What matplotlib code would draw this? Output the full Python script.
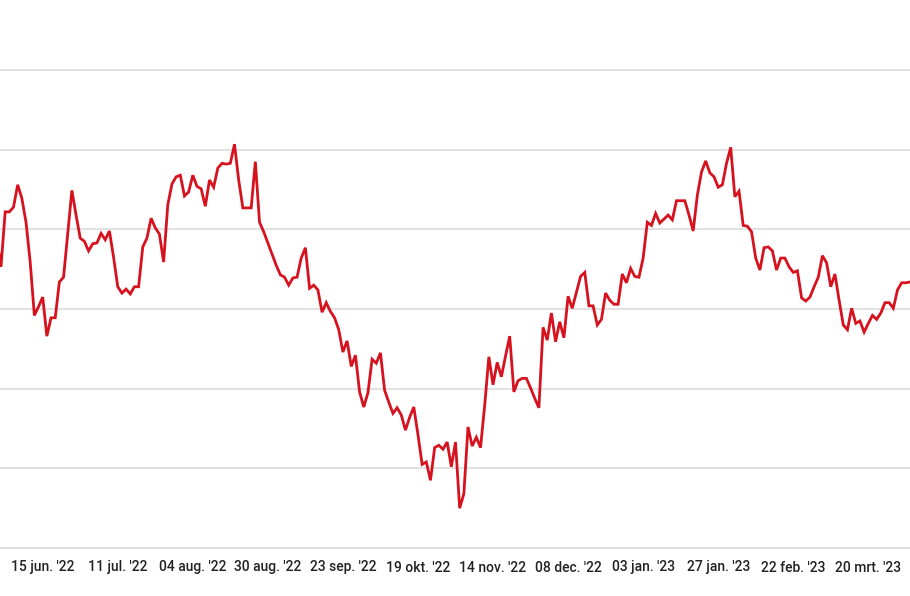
import numpy as np
import matplotlib
matplotlib.use("Agg")
import matplotlib.pyplot as plt

# Series values (one per trading day, starting one day before the first visible point)
values = [
    38.7, 35.3, 42.2, 42.2, 42.8, 45.6, 43.9, 40.9, 35.9, 29.2,
    30.3, 31.5, 26.6, 28.9, 28.9, 33.4, 34.0, 39.5, 44.9, 41.8,
    38.9, 38.5, 37.3, 38.2, 38.3, 39.5, 38.7, 39.8, 36.5, 32.8,
    32.0, 32.5, 31.9, 32.8, 32.8, 37.8, 38.9, 41.4, 40.2, 39.4,
    35.9, 43.1, 45.7, 46.6, 46.8, 44.2, 44.7, 46.8, 45.4, 45.1,
    42.9, 46.2, 45.3, 47.7, 48.3, 48.2, 48.3, 50.7, 46.2, 42.7,
    42.7, 42.7, 48.5, 40.9, 39.7, 38.3, 36.9, 35.5, 34.3, 34.0,
    33.0, 33.9, 34.0, 36.4, 37.7, 32.6, 33.0, 32.4, 29.6, 30.8,
    29.7, 28.9, 27.4, 24.6, 26.0, 22.8, 24.2, 19.6, 17.7, 19.5,
    23.7, 23.2, 24.5, 19.8, 18.3, 16.9, 17.6, 16.7, 14.8, 16.4,
    17.7, 14.2, 10.5, 10.8, 8.5, 12.6, 12.9, 12.4, 13.3, 10.2,
    13.3, 5.0, 6.8, 15.2, 12.8, 13.9, 12.6, 17.9, 24.0, 20.5,
    23.3, 21.5, 24.1, 26.6, 19.6, 21.0, 21.3, 21.3, 20.1, 18.8,
    17.6, 27.7, 26.1, 29.5, 25.9, 28.4, 26.4, 31.6, 30.1, 32.1,
    34.1, 34.6, 30.4, 30.4, 28.0, 28.7, 32.0, 31.1, 30.6, 30.6,
    34.4, 33.3, 35.1, 34.1, 34.0, 36.4, 40.9, 40.5, 42.0, 40.8,
    41.3, 41.8, 41.2, 43.6, 43.6, 43.6, 41.8, 39.8, 44.3, 47.2,
    48.6, 47.1, 46.6, 45.3, 45.6, 48.3, 50.3, 44.1, 44.8, 40.5,
    40.4, 39.7, 36.4, 34.9, 37.7, 37.8, 37.3, 34.9, 36.4, 36.4,
    35.3, 34.6, 34.8, 31.4, 31.0, 31.5, 32.8, 34.0, 36.7, 35.8,
    32.8, 34.4, 31.1, 28.0, 27.4, 30.1, 28.2, 28.5, 27.1, 28.2,
    29.2, 28.7, 29.5, 30.8, 30.8, 30.1, 32.4, 33.3, 33.3, 33.4,
]
x_index = np.arange(len(values)) - 1

tick_labels = ["15 jun. '22", "11 jul. '22", "04 aug. '22", "30 aug. '22",
               "23 sep. '22", "19 okt. '22", "14 nov. '22", "08 dec. '22",
               "03 jan. '23", "27 jan. '23", "22 feb. '23", "20 mrt. '23"]
tick_index = [10 + 18 * k for k in range(len(tick_labels))]
grid_values = [0, 10, 20, 30, 40, 50, 60]

fig = plt.figure(figsize=(9.1, 5.96), dpi=100)
ax = fig.add_axes([0, 48 / 596, 1, 548 / 596])

ax.plot(x_index, values, color="#d7121f", lw=2.0, solid_joinstyle="miter",
        zorder=3)

ax.set_xlim(-0.24, 218.0)
ax.set_ylim(0, 68.8)
ax.set_yticks(grid_values)
ax.set_xticks(tick_index)
ax.set_xticklabels(tick_labels, color="#222222", family="Roboto",
                   fontsize=10, fontweight="medium")
ax.tick_params(axis="x", length=0, pad=9)
ax.tick_params(axis="y", length=0, labelleft=False)
ax.grid(axis="y", color="#d9d9d9", lw=1.1, zorder=0)
for s in ["top", "right", "left"]:
    ax.spines[s].set_visible(False)
ax.spines["bottom"].set_color("#d9d9d9")
ax.spines["bottom"].set_linewidth(1.1)

fig.savefig("out.png", dpi=100)
